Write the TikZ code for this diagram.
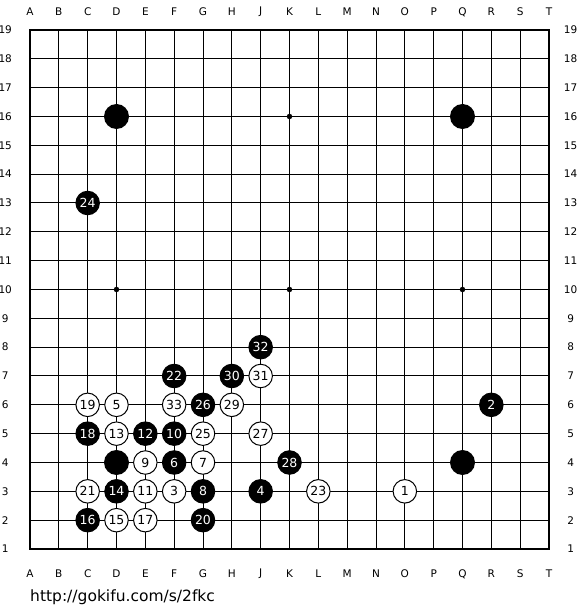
\documentclass[tikz,border=0pt]{standalone}
\usepackage{fontspec}
\setmainfont{DejaVu Sans}
\begin{document}
\begin{tikzpicture}[x=1pt,y=1pt,
  stonebase/.style={circle,draw=black,line width=1pt,minimum size=23.5pt,inner sep=0pt,
    font=\fontsize{12.5}{12.5}\selectfont},
  wstone/.style={stonebase,fill=white,text=black},
  bstone/.style={stonebase,fill=black,text=white},
  bigstone/.style={circle,fill=black,minimum size=25pt,inner sep=0pt},
  hoshi/.style={circle,fill=black,minimum size=5.5pt,inner sep=0pt},
  coordlab/.style={font=\fontsize{10.5}{10.5}\selectfont,inner sep=0pt},
  gridline/.style={line width=1pt},
  borderline/.style={line width=2pt}]
\useasboundingbox (0,0) rectangle (580,610);
\fill[white] (0,0) rectangle (580,610);
\begin{scope}[shift={(30,61)},x=28.833pt,y=28.833pt]
  % grid
  \foreach \i in {1,...,17} {
    \draw[gridline] (\i,0) -- (\i,18);
    \draw[gridline] (0,\i) -- (18,\i);
  }
  \draw[borderline] (0,0) rectangle (18,18);
  % star points
  \foreach \p in {(3,3),(9,3),(15,3),(3,9),(9,9),(15,9),(3,15),(9,15),(15,15)}
    \node[hoshi] at \p {};
  % coordinates
  \foreach \l [count=\c from 0] in {A,B,C,D,E,F,G,H,J,K,L,M,N,O,P,Q,R,S,T} {
    \node[coordlab] (top\l) at (\c,18.63) {\l};
    \node[coordlab] (bot\l) at (\c,-0.87) {\l};
  }
  \foreach \r in {1,...,19} {
    \node[coordlab] (left\r) at (-0.86,\r-1) {\r};
    \node[coordlab] (right\r) at (18.75,\r-1) {\r};
  }
  % unnumbered stones
  \node[bigstone] (D16) at (3,15) {};
  \node[bigstone] (Q16) at (15,15) {};
  \node[bigstone] (D4) at (3,3) {};
  \node[bigstone] (Q4) at (15,3) {};
  % numbered stones (col index, row-1)
  \node[wstone] (m1) at (13,2) {1};
  \node[bstone] (m2) at (16,5) {2};
  \node[wstone] (m3) at (5,2) {3};
  \node[bstone] (m4) at (8,2) {4};
  \node[wstone] (m5) at (3,5) {5};
  \node[bstone] (m6) at (5,3) {6};
  \node[wstone] (m7) at (6,3) {7};
  \node[bstone] (m8) at (6,2) {8};
  \node[wstone] (m9) at (4,3) {9};
  \node[bstone] (m10) at (5,4) {10};
  \node[wstone] (m11) at (4,2) {11};
  \node[bstone] (m12) at (4,4) {12};
  \node[wstone] (m13) at (3,4) {13};
  \node[bstone] (m14) at (3,2) {14};
  \node[wstone] (m15) at (3,1) {15};
  \node[bstone] (m16) at (2,1) {16};
  \node[wstone] (m17) at (4,1) {17};
  \node[bstone] (m18) at (2,4) {18};
  \node[wstone] (m19) at (2,5) {19};
  \node[bstone] (m20) at (6,1) {20};
  \node[wstone] (m21) at (2,2) {21};
  \node[bstone] (m22) at (5,6) {22};
  \node[wstone] (m23) at (10,2) {23};
  \node[bstone] (m24) at (2,12) {24};
  \node[wstone] (m25) at (6,4) {25};
  \node[bstone] (m26) at (6,5) {26};
  \node[wstone] (m27) at (8,4) {27};
  \node[bstone] (m28) at (9,3) {28};
  \node[wstone] (m29) at (7,5) {29};
  \node[bstone] (m30) at (7,6) {30};
  \node[wstone] (m31) at (8,6) {31};
  \node[bstone] (m32) at (8,7) {32};
  \node[wstone] (m33) at (5,5) {33};
\end{scope}
\node[anchor=base west,inner sep=0pt,font=\fontsize{15.5}{15.5}\selectfont] (url) at (30,9) {http://gokifu.com/s/2fkc};
\end{tikzpicture}
\end{document}
